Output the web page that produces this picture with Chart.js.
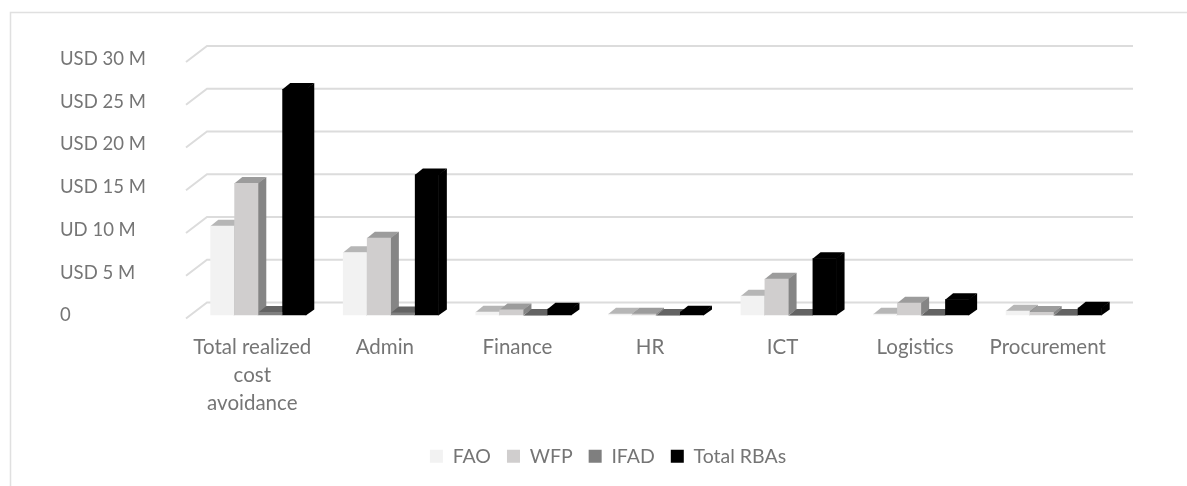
<!DOCTYPE html>
<html><head><meta charset="utf-8">
<style>html,body{margin:0;padding:0;background:#fff}canvas{display:block;filter:blur(0.45px)}</style>
<script src="https://cdn.jsdelivr.net/npm/chart.js@4"></script>
</head><body>
<canvas id="c" width="1187" height="486"></canvas>
<script>
const categories = [['Total realized','cost','avoidance'],'Admin','Finance','HR','ICT','Logistics','Procurement'];
const seriesNames = ['FAO','WFP','IFAD','Total RBAs'];
const fao = [10.5,7.4,0.45,0.2,2.3,0.2,0.55];
const wfp = [15.5,9.1,0.7,0.2,4.3,1.5,0.4];
const ifad = [0.4,0.35,0.05,0.05,0.05,0.05,0.05];
const total = [26.5,16.5,0.8,0.45,6.7,1.9,0.9];
const tickLabels = {30:'USD 30 M',25:'USD 25 M',20:'USD 20 M',15:'USD 15 M',10:'UD 10 M',5:'USD 5 M',0:'0'};
const frontColors = ['#f2f2f2','#d0cece','#7f7f7f','#000000'];
const topColors = ['#b6b6b6','#9c9c9c','#636363','#000000'];
const sideColors = ['#949494','#858585','#555555','#000000'];
const DX = 8, DY = 6, SHIFT = 6;

const box3d = {
  id:'box3d',
  afterLayout(chart){ chart.legend.left += 21; chart.legend.right += 21; },
  beforeDraw(chart){
    const c = chart.ctx, y = chart.scales.y, a = chart.chartArea;
    c.save();
    c.strokeStyle='#e0e0e0'; c.lineWidth=1.5;
    c.beginPath(); c.moveTo(10.5,486); c.lineTo(10.5,12.5); c.lineTo(1187,12.5); c.stroke();
    c.strokeStyle='#dcdcdc'; c.lineWidth=2;
    y.ticks.forEach(t=>{
      const p = y.getPixelForValue(t.value);
      c.beginPath();
      c.moveTo(a.left,p+3); c.lineTo(a.left+21,p-13); c.lineTo(a.right+19,p-13);
      c.stroke();
    });
    c.restore();
  },
  beforeDatasetsDraw(chart){
    const c = chart.ctx;
    c.save();
    c.translate(SHIFT,0);
    const n = chart.data.labels.length;
    for(let i=0;i<n;i++){
      chart.data.datasets.forEach((ds,d)=>{
        const b = chart.getDatasetMeta(d).data[i];
        const w = b.width/2, l=b.x-w, r=b.x+w, t=b.y, base=b.base;
        c.fillStyle = sideColors[d];
        c.beginPath(); c.moveTo(r-0.5,base); c.lineTo(r-0.5,t); c.lineTo(r+DX,t-DY); c.lineTo(r+DX,base-DY); c.closePath(); c.fill();
        c.fillStyle = topColors[d];
        c.beginPath(); c.moveTo(l,t+0.5); c.lineTo(r,t+0.5); c.lineTo(r+DX,t-DY); c.lineTo(l+DX,t-DY); c.closePath(); c.fill();
      });
    }
  },
  afterDatasetsDraw(chart){ chart.ctx.restore(); }
};

const txt = '#757575';
new Chart(document.getElementById('c'),{
  type:'bar',
  plugins:[box3d],
  data:{labels:categories,datasets:[fao,wfp,ifad,total].map((v,i)=>({
    label:seriesNames[i],data:v,backgroundColor:frontColors[i],borderWidth:0,
    categoryPercentage:0.724,barPercentage:1
  }))},
  options:{
    responsive:false,animation:false,devicePixelRatio:1,
    layout:{padding:{left:60,right:73,top:59,bottom:10}},
    plugins:{
      tooltip:{enabled:false},
      legend:{position:'bottom',labels:{boxWidth:13,boxHeight:13,padding:16,color:txt,font:{family:'Lato',size:19.5}}}
    },
    scales:{
      x:{grid:{display:false},border:{display:false},
        afterFit(s){s.height=115;},
        ticks:{color:txt,font:{family:'Lato',size:20.5,lineHeight:'28px'},maxRotation:0,autoSkip:false,padding:10}},
      y:{min:0,max:30,grid:{display:false},border:{display:false},
        afterFit(s){s.width=126;},
        ticks:{stepSize:5,color:txt,font:{family:'Lato',size:18.5},crossAlign:'far',padding:10,callback:v=>tickLabels[v]}}
    }
  }
});
</script>
</body></html>
